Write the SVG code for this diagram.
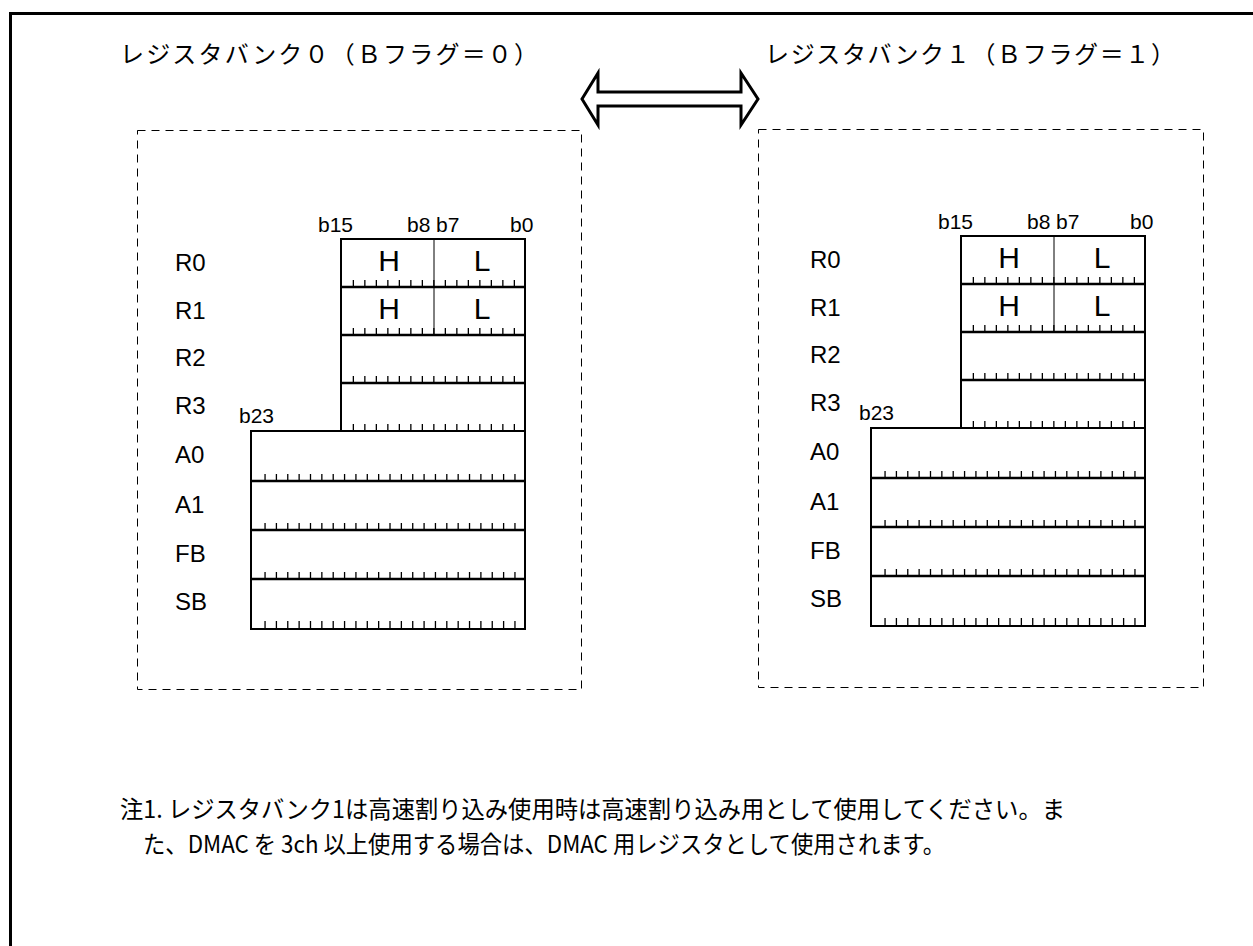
<svg xmlns="http://www.w3.org/2000/svg" width="1253" height="946" viewBox="0 0 1253 946">
<style>
.frame{fill:none;stroke:#000;stroke-width:3}
.dash{fill:none;stroke:#000;stroke-width:1;stroke-dasharray:8 6}
.reg{fill:#fff;stroke:#000;stroke-width:2}
.sep{stroke:#000;stroke-width:2.5}
.div{stroke:#000;stroke-width:1}
.t16{stroke:#000;stroke-width:7;stroke-dasharray:1.3 10.2;fill:none}
.t24{stroke:#000;stroke-width:7;stroke-dasharray:1.3 10.06;fill:none}
.title{font-family:"Noto Sans CJK JP","Noto Sans",sans-serif;font-size:24px;fill:#000}
.lbl{font-family:"Liberation Sans",Arial,sans-serif;font-size:24px;fill:#000}
.bit{font-family:"Liberation Sans",Arial,sans-serif;font-size:21px;fill:#000}
.hl{font-family:"Liberation Sans",Arial,sans-serif;font-size:30px;fill:#000;text-anchor:middle}
.note{font-family:"Liberation Sans Narrow","Noto Sans CJK JP",sans-serif;font-size:24px;fill:#000}
.arrow{fill:#fff;stroke:#000;stroke-width:3;stroke-linejoin:miter}
</style>
<defs>
<g id="bank">
  <g id="regs16">
    <rect class="reg" x="341" y="239" width="184" height="192"/>
    <line class="div" x1="434" y1="239" x2="434" y2="335"/>
    <line class="sep" x1="341" y1="287" x2="525" y2="287"/>
    <line class="sep" x1="341" y1="335" x2="525" y2="335"/>
    <line class="sep" x1="341" y1="383" x2="525" y2="383"/>
    <line class="t16" x1="352.7" y1="283.5" x2="515.9" y2="283.5"/>
    <line class="t16" x1="352.7" y1="331.5" x2="515.9" y2="331.5"/>
    <line class="t16" x1="352.7" y1="379.5" x2="515.9" y2="379.5"/>
    <line class="t16" x1="352.7" y1="427.5" x2="515.9" y2="427.5"/>
    <text class="hl" x="389" y="271">H</text>
    <text class="hl" x="482" y="271">L</text>
    <text class="hl" x="389" y="319">H</text>
    <text class="hl" x="482" y="319">L</text>
  </g>
  <g id="regs24">
    <rect class="reg" x="251" y="431" width="274" height="198"/>
    <line class="sep" x1="251" y1="481" x2="525" y2="481"/>
    <line class="sep" x1="251" y1="530" x2="525" y2="530"/>
    <line class="sep" x1="251" y1="579" x2="525" y2="579"/>
    <line class="t24" x1="264.4" y1="477.5" x2="515.6" y2="477.5"/>
    <line class="t24" x1="264.4" y1="526.5" x2="515.6" y2="526.5"/>
    <line class="t24" x1="264.4" y1="575.5" x2="515.6" y2="575.5"/>
    <line class="t24" x1="264.4" y1="624.5" x2="515.6" y2="624.5"/>
  </g>
  <text class="bit" x="318" y="232">b15</text>
  <text class="bit" x="407" y="232">b8</text>
  <text class="bit" x="436" y="232">b7</text>
  <text class="bit" x="510" y="232">b0</text>
  <text class="bit" x="239" y="423">b23</text>
</g>
<g id="labels">
  <text class="lbl" x="0" y="271">R0</text>
  <text class="lbl" x="0" y="319">R1</text>
  <text class="lbl" x="0" y="366">R2</text>
  <text class="lbl" x="0" y="414">R3</text>
  <text class="lbl" x="0" y="463">A0</text>
  <text class="lbl" x="0" y="513">A1</text>
  <text class="lbl" x="0" y="562">FB</text>
  <text class="lbl" x="0" y="610">SB</text>
</g>
</defs>
<rect width="1253" height="946" fill="#fff"/>
<path class="frame" d="M10.5 960 V13.5 H1260"/>
<g id="bank0">
  <text class="title" x="120" y="63" textLength="418" lengthAdjust="spacing">レジスタバンク０（Ｂフラグ＝０）</text>
  <rect class="dash" x="137.5" y="130.5" width="444" height="559"/>
  <use href="#bank"/>
  <use href="#labels" transform="translate(175,0)"/>
</g>
<g id="bank1">
  <text class="title" x="765" y="63" textLength="410" lengthAdjust="spacing">レジスタバンク１（Ｂフラグ＝１）</text>
  <rect class="dash" x="758.5" y="129.5" width="445" height="558"/>
  <use href="#bank" transform="translate(620,-3)"/>
  <use href="#labels" transform="translate(810,-3)"/>
</g>
<g id="connectors">
  <polygon class="arrow" points="582,99 598,73 598,92 741,92 741,73 758,99 741,125 741,106 598,106 598,125"/>
</g>
<g id="note">
  <text class="note" x="120" y="818" textLength="945" lengthAdjust="spacingAndGlyphs">注1. レジスタバンク1は高速割り込み使用時は高速割り込み用として使用してください。ま</text>
  <text class="note" x="143" y="853" textLength="802" lengthAdjust="spacingAndGlyphs">た、DMAC を 3ch 以上使用する場合は、DMAC 用レジスタとして使用されます。</text>
</g>
</svg>
